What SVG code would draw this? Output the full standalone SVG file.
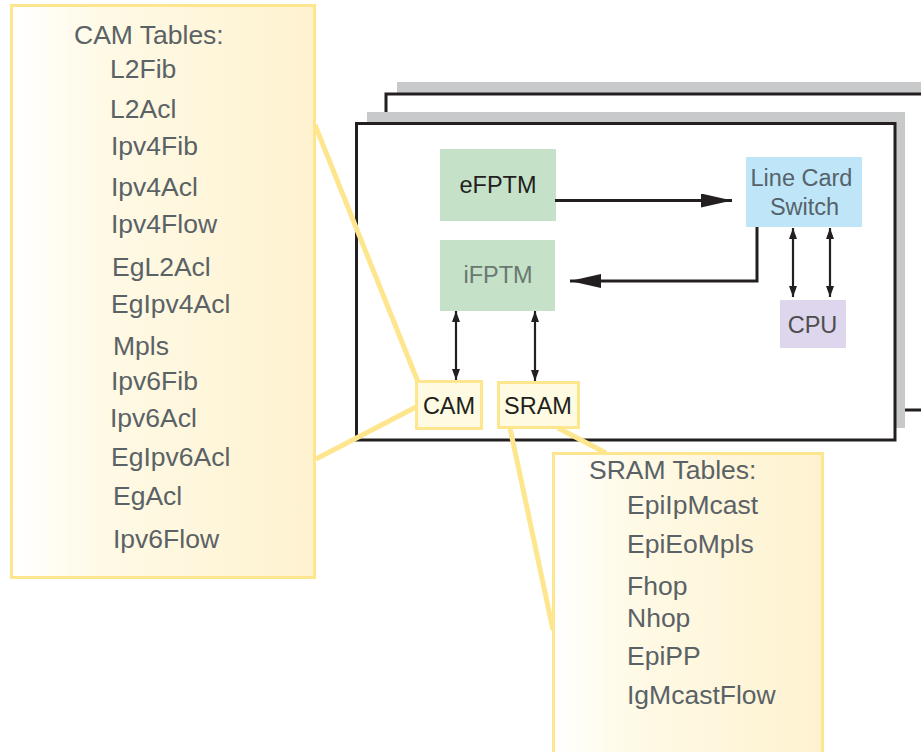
<svg xmlns="http://www.w3.org/2000/svg" width="921" height="752" viewBox="0 0 921 752">
<style>
.tbl{font-family:"Liberation Sans",Arial,sans-serif;font-size:26.5px;fill:#5a6266}
.nd{font-family:"Liberation Sans",Arial,sans-serif;font-size:23.5px;text-anchor:middle}
.card{fill:#ffffff;stroke:#231f20;stroke-width:3}
.shadow{fill:#c8c9cb}
.callout{stroke:#fde68e;stroke-width:5;fill:none}
.tbox{stroke:#fde68e;stroke-width:3}
.arr{stroke:#231f20;stroke-width:3;fill:none}
.darr{stroke:#231f20;stroke-width:2.2;fill:none}
</style>
<defs>
<linearGradient id="cream" x1="0" y1="0" x2="1" y2="0">
<stop offset="0" stop-color="#ffffff"/>
<stop offset="0.3" stop-color="#fffae6"/>
<stop offset="1" stop-color="#fef2d0"/>
</linearGradient>
<marker id="big" markerUnits="userSpaceOnUse" markerWidth="32" markerHeight="14" refX="31" refY="7" orient="auto">
<path d="M0,0 L31,7 L0,14 Z" fill="#231f20"/>
</marker>
<marker id="sm" markerUnits="userSpaceOnUse" markerWidth="12" markerHeight="8" refX="11" refY="4" orient="auto-start-reverse">
<path d="M0,0 L11,4 L0,8 Z" fill="#231f20"/>
</marker>
</defs>

<g id="card-back">
<rect class="shadow" x="397" y="82" width="539" height="317"/>
<rect class="card" x="386" y="94" width="539" height="316"/>
</g>
<g id="card-front">
<rect class="shadow" x="367" y="112" width="538" height="316"/>
<rect class="card" x="356.5" y="123.5" width="538.5" height="316.5"/>
</g>

<g id="callouts">
<line class="callout" x1="315" y1="125" x2="418" y2="382"/>
<line class="callout" x1="316" y1="459" x2="418" y2="406"/>
<line class="callout" x1="510" y1="428" x2="553" y2="630"/>
<line class="callout" x1="558" y1="428" x2="606" y2="453"/>
</g>

<g id="cam-tables">
<rect class="tbox" x="11.5" y="5.5" width="303" height="572" fill="url(#cream)"/>
<text class="tbl" x="74" y="44">CAM Tables:</text>
<text class="tbl" x="110" y="78">L2Fib</text>
<text class="tbl" x="110" y="118">L2Acl</text>
<text class="tbl" x="111" y="155">Ipv4Fib</text>
<text class="tbl" x="111" y="196">Ipv4Acl</text>
<text class="tbl" x="111" y="233">Ipv4Flow</text>
<text class="tbl" x="112" y="276">EgL2Acl</text>
<text class="tbl" x="111" y="313">EgIpv4Acl</text>
<text class="tbl" x="113" y="355">Mpls</text>
<text class="tbl" x="111" y="390">Ipv6Fib</text>
<text class="tbl" x="110" y="427">Ipv6Acl</text>
<text class="tbl" x="111" y="466">EgIpv6Acl</text>
<text class="tbl" x="113" y="505">EgAcl</text>
<text class="tbl" x="113" y="548">Ipv6Flow</text>
</g>

<g id="sram-tables">
<rect class="tbox" x="553.5" y="453.5" width="269" height="310" fill="url(#cream)"/>
<text class="tbl" x="589" y="479">SRAM Tables:</text>
<text class="tbl" x="627" y="514">EpiIpMcast</text>
<text class="tbl" x="627" y="553">EpiEoMpls</text>
<text class="tbl" x="627" y="595">Fhop</text>
<text class="tbl" x="627" y="627">Nhop</text>
<text class="tbl" x="627" y="665">EpiPP</text>
<text class="tbl" x="627" y="704">IgMcastFlow</text>
</g>

<g id="eFPTM">
<rect x="440" y="149" width="116" height="72" fill="#c5e2c8"/>
<text class="nd" x="498" y="193" fill="#231f20">eFPTM</text>
</g>
<g id="iFPTM">
<rect x="440" y="240" width="115" height="71" fill="#c5e2c8"/>
<text class="nd" x="498" y="283" fill="#6a7870">iFPTM</text>
</g>
<g id="line-card-switch">
<rect x="746" y="157" width="116" height="70" fill="#bfe6f8"/>
<text class="nd" x="801.5" y="186" fill="#56626b">Line Card</text>
<text class="nd" x="804.5" y="215" fill="#56626b">Switch</text>
</g>
<g id="cpu">
<rect x="780" y="300" width="66" height="48" fill="#ddd6ec"/>
<text class="nd" x="812.5" y="333" fill="#4d4d4f">CPU</text>
</g>
<g id="cam">
<rect x="416.5" y="381.5" width="65" height="47" fill="#fefbe2" class="tbox"/>
<text class="nd" x="449" y="414" fill="#231f20">CAM</text>
</g>
<g id="sram">
<rect x="498.5" y="382.5" width="80" height="45" fill="#fefbe2" class="tbox"/>
<text class="nd" x="538" y="414" fill="#231f20">SRAM</text>
</g>

<g id="connectors">
<line class="arr" x1="555" y1="200.5" x2="732" y2="200.5" marker-end="url(#big)"/>
<polyline class="arr" points="757,227 757,281 570,281" marker-end="url(#big)"/>
<line class="darr" x1="793" y1="228" x2="793" y2="297" marker-start="url(#sm)" marker-end="url(#sm)"/>
<line class="darr" x1="830" y1="228" x2="830" y2="297" marker-start="url(#sm)" marker-end="url(#sm)"/>
<line class="darr" x1="456" y1="311" x2="456" y2="380" marker-start="url(#sm)" marker-end="url(#sm)"/>
<line class="darr" x1="535" y1="311" x2="535" y2="381" marker-start="url(#sm)" marker-end="url(#sm)"/>
</g>
</svg>
